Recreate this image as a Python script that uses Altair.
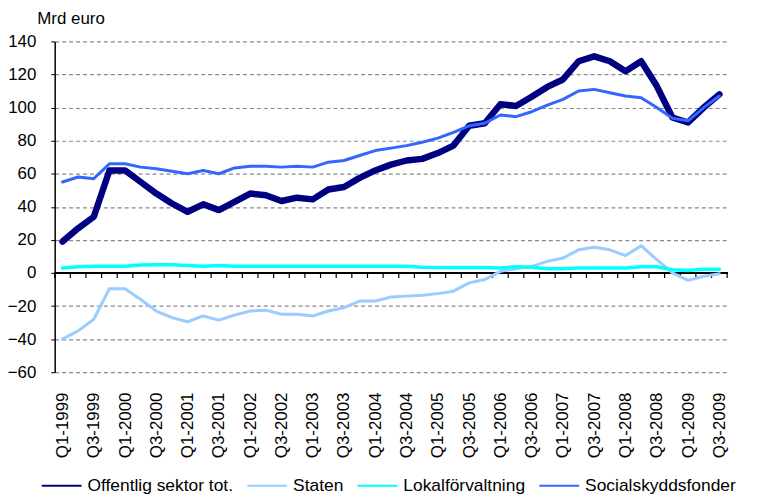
import altair as alt
import pandas as pd

quarters = [
    "Q1-1999", "Q2-1999", "Q3-1999", "Q4-1999",
    "Q1-2000", "Q2-2000", "Q3-2000", "Q4-2000",
    "Q1-2001", "Q2-2001", "Q3-2001", "Q4-2001",
    "Q1-2002", "Q2-2002", "Q3-2002", "Q4-2002",
    "Q1-2003", "Q2-2003", "Q3-2003", "Q4-2003",
    "Q1-2004", "Q2-2004", "Q3-2004", "Q4-2004",
    "Q1-2005", "Q2-2005", "Q3-2005", "Q4-2005",
    "Q1-2006", "Q2-2006", "Q3-2006", "Q4-2006",
    "Q1-2007", "Q2-2007", "Q3-2007", "Q4-2007",
    "Q1-2008", "Q2-2008", "Q3-2008", "Q4-2008",
    "Q1-2009", "Q2-2009", "Q3-2009",
]

offentlig = [19, 27, 34, 62, 62, 55, 48, 42, 37, 41.5, 38, 43, 48, 47, 43.5,
             45.5, 44.5, 50.5, 52, 57.5, 62, 65.5, 68, 69, 72.5, 77, 89, 90.5,
             102, 101, 106.5, 112.5, 117, 128, 131, 128, 122, 128, 113, 94, 91,
             100, 108]
staten = [-40, -35, -28, -9.5, -9.5, -16, -23, -27, -29.5, -26, -28.5, -25.5,
          -23, -22.5, -25, -25, -26, -23, -21, -17, -17, -14.5, -14, -13.5,
          -12.5, -11, -6, -4, 1, 2.5, 4, 7, 9, 14, 15.5, 14, 10.5, 16.5, 8, 0,
          -4.5, -2, -0.5]
lokal = [3, 3.8, 4, 4, 4, 4.8, 5, 5, 4.5, 4, 4.5, 4, 4, 4, 4, 4, 4, 4, 4, 4,
         4, 4, 4, 3.5, 3.3, 3.3, 3.3, 3.3, 3, 3.8, 3.5, 2.5, 2.5, 3, 3, 3, 3,
         3.8, 3.8, 2, 1.5, 2.3, 2.3]
social = [55, 58, 57, 66, 66, 64, 63, 61.5, 60, 62, 60, 63.5, 64.5, 64.5, 64,
          64.5, 64, 67, 68, 71, 74, 75.5, 77, 79, 81.5, 85, 89, 90.5, 95.5, 94.5,
          97.5, 101.5, 105, 110, 111, 109, 107, 106, 100, 93.5, 92, 100, 107]

series_names = ["Offentlig sektor tot.", "Staten", "Lokalförvaltning", "Socialskyddsfonder"]
series_values = [offentlig, staten, lokal, social]
series_colors = ["#000080", "#99CCFF", "#00FFFF", "#3366FF"]
series_widths = [6.5, 3, 3.5, 3]

tick_labels = quarters[::2]

rows = []
for name, vals in zip(series_names, series_values):
    for i, (q, v) in enumerate(zip(quarters, vals)):
        rows.append({"idx": i, "quarter": q, "serie": name, "value": v})
df = pd.DataFrame(rows)

tick_df = pd.DataFrame({"pos": [i - 0.5 for i in range(len(quarters) + 1)]})

W, H = 677, 333
FONT = "Liberation Sans"

label_expr = "[" + ",".join("'" + t + "'" for t in tick_labels) + "][round(datum.value / 2)]"

x_scale = alt.Scale(domain=[-0.5, len(quarters) - 0.5], nice=False, zero=False)
y_scale = alt.Scale(domain=[-60, 140], nice=False, zero=False)

x_axis = alt.Axis(
    values=list(range(0, len(quarters), 2)),
    labelExpr=label_expr,
    labelAngle=270,
    labelFont=FONT,
    labelFontSize=17,
    labelColor="black",
    labelPadding=20,
    ticks=False,
    tickSize=0,
    domain=False,
    grid=False,
    title=None,
)
y_axis = alt.Axis(
    values=list(range(-60, 141, 20)),
    labelFont=FONT,
    labelFontSize=17,
    labelColor="black",
    labelPadding=15,
    tickSize=4,
    tickColor="black",
    domainColor="black",
    domainWidth=1.5,
    grid=True,
    gridColor="#8a8a8a",
    gridDash=[4, 3],
    gridWidth=1.2,
    title="Mrd euro",
    titleAngle=0,
    titleAlign="left",
    titleBaseline="middle",
    titleX=-18,
    titleY=-23,
    titleFont=FONT,
    titleFontSize=17,
    titleFontWeight="normal",
    titleColor="black",
)

color_scale = alt.Scale(domain=series_names, range=series_colors)
legend = alt.Legend(title=None, symbolStrokeWidth=2, symbolType="stroke",
                    symbolSize=1600, orient="none", legendX=-14, legendY=426,
                    direction="horizontal")

X = alt.X("idx:Q", scale=x_scale, axis=x_axis)
Y = alt.Y("value:Q", scale=y_scale, axis=y_axis)

layers = []
for name, w in zip(series_names, series_widths):
    layers.append(
        alt.Chart(df).transform_filter(alt.datum.serie == name)
        .mark_line(strokeJoin="round", strokeCap="round", strokeWidth=w)
        .encode(x=X, y=Y, color=alt.Color("serie:N", scale=color_scale, legend=legend))
    )

zero_line = alt.Chart(tick_df).mark_rule(color="black", strokeWidth=1.5).encode(
    y=alt.Y(datum=0, scale=y_scale, axis=y_axis)
)
ticks = alt.Chart(tick_df).mark_rule(color="black", strokeWidth=1.2).encode(
    x=alt.X("pos:Q", scale=x_scale, axis=x_axis),
    y=alt.Y(datum=0, scale=y_scale, axis=y_axis),
    y2=alt.Y2(datum=-3),
)

chart = alt.layer(zero_line, ticks, *layers).properties(
    width=W,
    height=H,
    autosize=alt.AutoSizeParams(type="none"),
    padding={"left": 47, "top": 32, "right": 25, "bottom": 125},
).configure_view(stroke=None).configure_legend(
    labelFont=FONT,
    labelFontSize=17.5,
    labelColor="black",
    labelOffset=5,
    columnPadding=10,
    padding=0,
)

chart.save("out.html", embed_options={"renderer": "svg", "actions": False})
